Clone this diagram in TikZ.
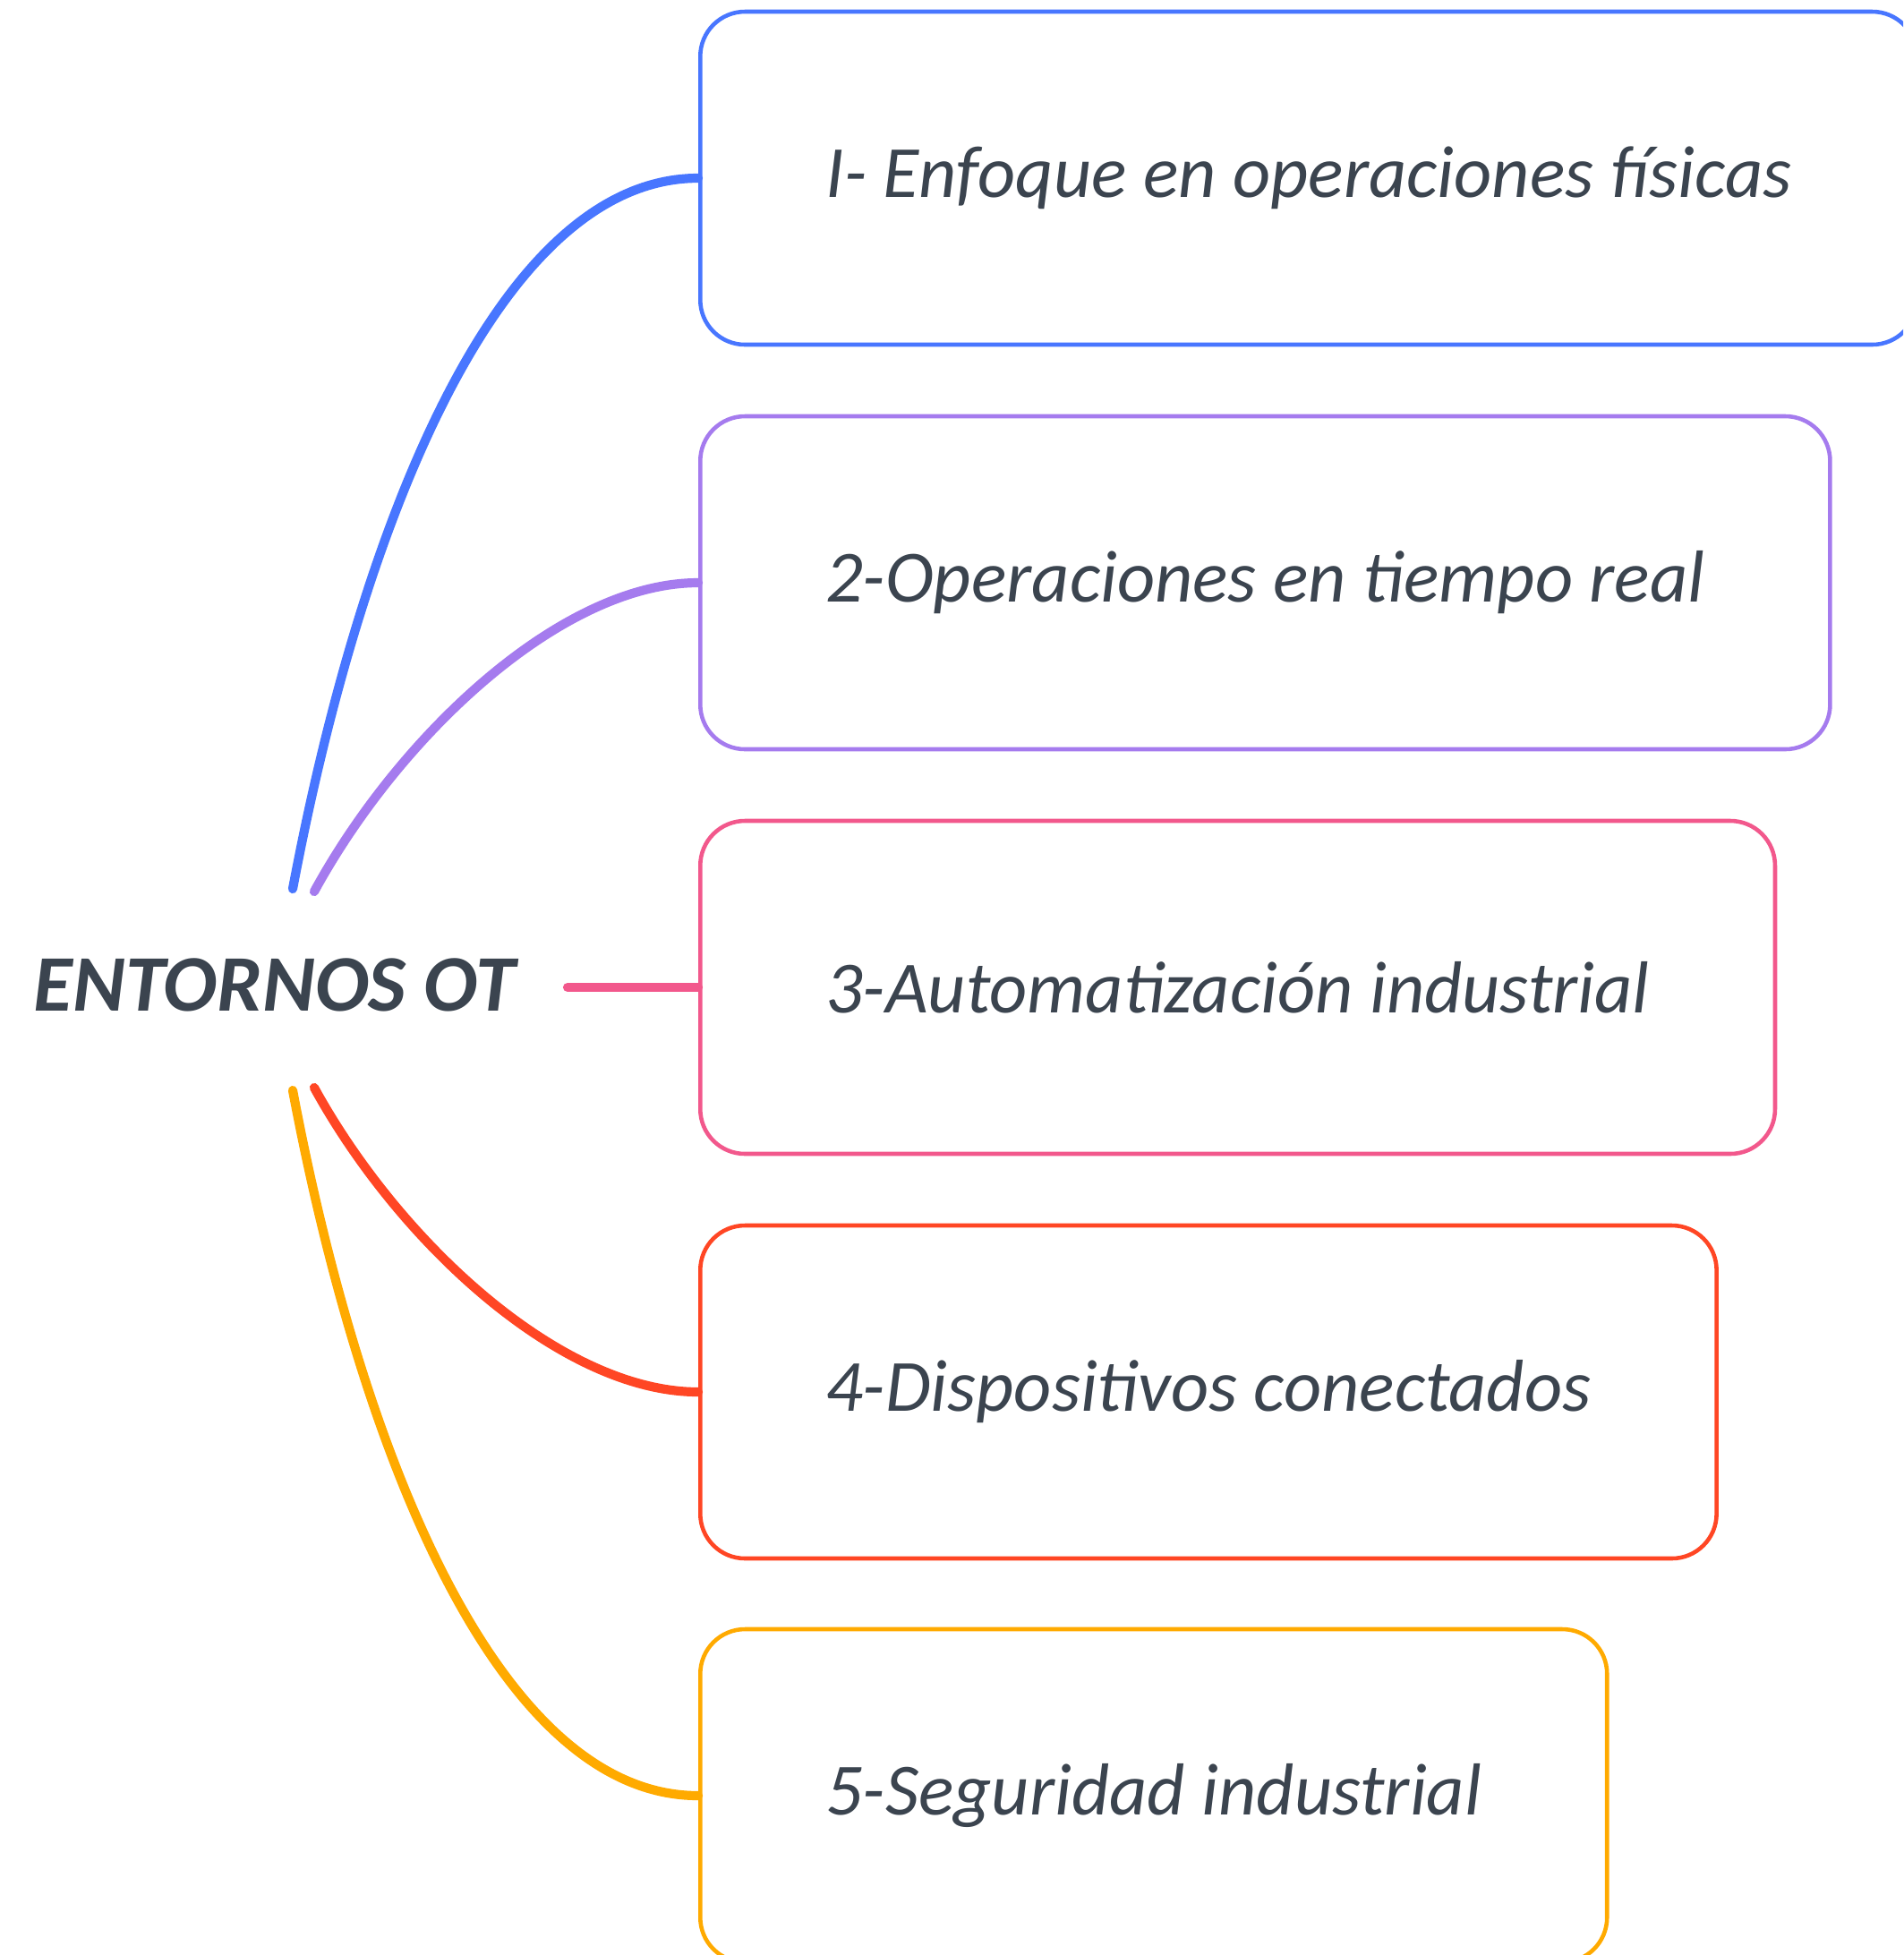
\documentclass[tikz,border=0pt]{standalone}
\usepackage{fontspec}
\setmainfont{Carlito}
\usetikzlibrary{positioning}

\definecolor{otblue}{HTML}{4876FF}
\definecolor{otpurple}{HTML}{A57BEE}
\definecolor{otpink}{HTML}{F2588C}
\definecolor{otred}{HTML}{FF4624}
\definecolor{otorange}{HTML}{FFAA00}
\definecolor{ottext}{HTML}{3B444F}

\tikzset{
  topic/.style={rectangle, draw, rounded corners=0.5cm, line width=1.3pt,
    minimum height=3.72cm, inner xsep=1.4cm, anchor=west, text=ottext,
    font=\itshape\fontsize{23.4}{28}\selectfont},
  branch/.style={line width=2.9pt, line cap=round}
}

\begin{document}
\begin{tikzpicture}
   \clip (0,0) rectangle (21.26,-21.84);
   \fill[white] (0,0) rectangle (21.26,-21.84);

   % central topic
   \node[text=ottext, font=\bfseries\itshape\fontsize{25.5}{30}\selectfont] (ot) at (3.07,-11.0) {ENTORNOS OT};

   % subtopics
   \node[topic, draw=otblue] (fisicas) at (7.80,-1.99) {I- Enfoque en operaciones físicas};
   \node[topic, draw=otpurple] (real) at (7.80,-6.51) {2-Operaciones en tiempo real};
   \node[topic, draw=otpink] (auto) at (7.80,-11.03) {3-Automatización industrial};
   \node[topic, draw=otred] (disp) at (7.80,-15.55) {4-Dispositivos conectados};
   \node[topic, draw=otorange] (seg) at (7.80,-20.06) {5-Seguridad industrial};

   % branch ends near the title
   \coordinate (s1) at (3.27,-9.93);
   \coordinate (s2) at (3.51,-9.96);
   \coordinate (s3) at (6.34,-11.03);
   \coordinate (s4) at (3.51,-12.15);
   \coordinate (s5) at (3.27,-12.18);

   \draw[branch, otblue] (s1) .. controls (4.04,-5.85) and (5.57,-1.99) .. (fisicas.west);
   \draw[branch, otpurple] (s2) .. controls (4.46,-8.22) and (6.27,-6.51) .. (real.west);
   \draw[branch, otpink] (s3) -- (auto.west);
   \draw[branch, otred] (s4) .. controls (4.46,-13.88) and (6.27,-15.55) .. (disp.west);
   \draw[branch, otorange] (s5) .. controls (4.04,-16.26) and (5.57,-20.06) .. (seg.west);
\end{tikzpicture}
\end{document}
